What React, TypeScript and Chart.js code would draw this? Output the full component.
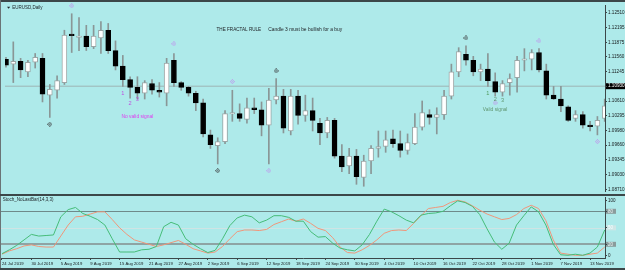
import React, { useEffect, useRef } from "react";
import { Chart, registerables } from "chart.js";
Chart.register(...registerables);

// ---------- data ----------
const dateLabels = [
  "24 Jul 2019", "30 Jul 2019", "5 Aug 2019", "9 Aug 2019", "15 Aug 2019", "21 Aug 2019",
  "27 Aug 2019", "2 Sep 2019", "6 Sep 2019", "12 Sep 2019", "18 Sep 2019", "24 Sep 2019",
  "30 Sep 2019", "4 Oct 2019", "10 Oct 2019", "16 Oct 2019", "22 Oct 2019", "28 Oct 2019",
  "1 Nov 2019", "7 Nov 2019", "13 Nov 2019",
];
const barsPerLabel = 4;

const opens = [
  1.11509, 1.11405, 1.11467, 1.11238, 1.11446, 1.11530, 1.10737, 1.10842, 1.11008, 1.12030,
  1.11978, 1.12009, 1.11780, 1.11968, 1.12134, 1.11697, 1.11363, 1.11071, 1.10904, 1.10779,
  1.10988, 1.10842, 1.10779, 1.11488, 1.11008, 1.10904, 1.10779, 1.10570, 1.09882, 1.09653,
  1.09737, 1.10331, 1.10341, 1.10216, 1.10466, 1.10424, 1.10091, 1.10633, 1.10716, 1.09966,
  1.10716, 1.10299, 1.10404, 1.10132, 1.09924, 1.10195, 1.09424, 1.09215, 1.09424, 1.08965,
  1.09320, 1.09591, 1.09632, 1.09799, 1.09695, 1.09549, 1.09695, 1.10049, 1.10320, 1.10258,
  1.10320, 1.10716, 1.11238, 1.11613, 1.11488, 1.11238, 1.11300, 1.11029, 1.10800, 1.11008,
  1.11113, 1.11488, 1.11509, 1.11655, 1.11259, 1.10737, 1.10654, 1.10487, 1.10237, 1.10320,
  1.10072, 1.10070, 1.10237,
];
const highs = [
  1.11551, 1.11884, 1.11530, 1.11488, 1.11634, 1.11634, 1.10967, 1.11154, 1.12134, 1.12489,
  1.12405, 1.12239, 1.12239, 1.12322, 1.12280, 1.11905, 1.11592, 1.11134, 1.11134, 1.11050,
  1.11071, 1.11008, 1.11530, 1.11634, 1.11029, 1.10925, 1.10821, 1.10654, 1.09986, 1.09820,
  1.10404, 1.10842, 1.10550, 1.10675, 1.10675, 1.10591, 1.10883, 1.11092, 1.10862, 1.10862,
  1.10842, 1.10737, 1.10675, 1.10237, 1.10258, 1.10237, 1.09674, 1.09591, 1.09570, 1.09445,
  1.09653, 1.09966, 1.09966, 1.09986, 1.09966, 1.09903, 1.10341, 1.10612, 1.10424, 1.10466,
  1.10842, 1.11405, 1.11759, 1.11801, 1.11572, 1.11405, 1.11634, 1.11217, 1.11050, 1.11196,
  1.11572, 1.11738, 1.11717, 1.11738, 1.11405, 1.10925, 1.10925, 1.10508, 1.10404, 1.10383,
  1.10174, 1.10278, 1.10654,
];
const lows = [
  1.11342, 1.11008, 1.11113, 1.11134, 1.11321, 1.10591, 1.10258, 1.10675, 1.10967, 1.11655,
  1.11697, 1.11697, 1.11738, 1.11634, 1.11634, 1.11280, 1.10925, 1.10675, 1.10654, 1.10654,
  1.10758, 1.10696, 1.10508, 1.10925, 1.10842, 1.10716, 1.10404, 1.09841, 1.09591, 1.09257,
  1.09695, 1.10174, 1.10174, 1.10132, 1.10341, 1.09862, 1.09257, 1.10550, 1.09924, 1.09882,
  1.10112, 1.10174, 1.09966, 1.09674, 1.09820, 1.09382, 1.09090, 1.09048, 1.08819, 1.08777,
  1.09048, 1.09403, 1.09507, 1.09612, 1.09403, 1.09466, 1.09674, 1.09986, 1.10112, 1.09903,
  1.10216, 1.10654, 1.11134, 1.11384, 1.11154, 1.11050, 1.10925, 1.10716, 1.10716, 1.10737,
  1.10800, 1.11259, 1.11280, 1.11238, 1.10654, 1.10644, 1.10383, 1.10174, 1.10174, 1.10028,
  1.09966, 1.09882, 1.10174,
];
const closes = [
  1.11384, 1.11467, 1.11280, 1.11446, 1.11551, 1.10758, 1.10862, 1.11050, 1.12030, 1.12018,
  1.11990, 1.11780, 1.12009, 1.12134, 1.11697, 1.11363, 1.11071, 1.10904, 1.10779, 1.11008,
  1.10842, 1.10800, 1.11426, 1.11008, 1.10904, 1.10779, 1.10570, 1.09903, 1.09674, 1.09737,
  1.10341, 1.10343, 1.10237, 1.10466, 1.10424, 1.10091, 1.10633, 1.10716, 1.10028, 1.10716,
  1.10299, 1.10404, 1.10195, 1.09924, 1.10195, 1.09424, 1.09194, 1.09424, 1.08986, 1.09320,
  1.09591, 1.09632, 1.09778, 1.09695, 1.09549, 1.09716, 1.10049, 1.10362, 1.10258, 1.10320,
  1.10716, 1.11238, 1.11676, 1.11488, 1.11238, 1.11300, 1.11050, 1.10800, 1.10988, 1.11092,
  1.11488, 1.11509, 1.11655, 1.11280, 1.10737, 1.10654, 1.10508, 1.10195, 1.10320, 1.10091,
  1.10060, 1.10195, 1.10508,
];

const stochMain = [
  3, 10, 18, 28, 38, 35, 36, 37, 70, 83,
  87, 76, 71, 65, 55, 30, 6, 6, 6, 10,
  11, 16, 52, 60, 55, 30, 20, 12, 5, 9,
  30, 54, 68, 73, 70, 59, 64, 72, 72, 69,
  62, 62, 43, 33, 34, 22, 13, 10, 8, 19,
  38, 62, 84, 79, 72, 64, 59, 73, 76, 77,
  80, 90, 99, 96, 89, 74, 48, 24, 11, 22,
  55, 72, 88, 79, 55, 20, 1, 0, 2, 0,
  4, 15, 46,
];
const stochSignal = [
  2, 8, 12, 17, 19, 16, 15, 15, 35, 55,
  70, 71, 75, 79, 79, 65, 50, 38, 28, 24,
  20, 16, 19, 23, 27, 20, 12, 8, 4, 6,
  16, 30, 43, 46, 46, 45, 47, 56, 61, 66,
  62, 66, 58, 49, 45, 32, 15, 5, 4, 10,
  18, 28, 40, 45, 46, 45, 58, 72, 85, 87,
  89, 96, 100, 97, 90, 82, 75, 70, 65, 67,
  74, 85, 91, 85, 63, 28, 4, 2, 0, 0,
  2, 4, 15,
];

const priceTicks = [
  1.1251, 1.12195, 1.11875, 1.1156, 1.11245, 1.1093, 1.1061, 1.10295, 1.0998, 1.0966,
  1.09345, 1.0903, 1.0871,
];
const currentPrice = 1.1093;
const stochTicks = [0, 20, 50, 80, 100];
const stochLevels = [80, 50, 20];

const fractalDarkBars = [6, 29, 37, 63];
const fractalDarkPrices = [1.10112, 1.09111, 1.11259, 1.11968];
const fractalLightBars = [9, 23, 31, 36, 67, 73, 81];
const fractalLightPrices = [1.1266, 1.11842, 1.11029, 1.09111, 1.1057, 1.11905, 1.09737];

const noteTexts = [
  "THE FRACTAL RULE", "Candle 3 must be bullish for a buy",
  "1", "2", "3", "No valid signal",
  "1", "2", "3", "Valid signal",
];
const noteBars = [28.84, 35.92, 16, 17, 18, 15.82, 66, 67, 68, 65.3];
const notePrices = [1.12155, 1.12155, 1.10773, 1.1055, 1.10654, 1.10268, 1.10779, 1.10639, 1.10619, 1.10425];
const noteColors = [
  "#202428", "#202428", "#c04ee0", "#c04ee0", "#c04ee0", "#e03cf0",
  "#4f9a5c", "#5f9670", "#5f9670", "#5f9670",
];
const noteSizes = [4.6, 4.9, 5.6, 5.6, 5.6, 4.9, 5.6, 5.6, 5.6, 4.9];
const noteAligns = ["left", "left", "center", "center", "center", "left", "center", "center", "center", "left"];

// ---------- style constants ----------
const BG = "#aeeaea";
const FRAME = "#3c4749";
const FONT = '"Liberation Sans", Arial, sans-serif';
const X_MIN = -0.136;
const X_MAX = 82.04;
const P_MIN = 1.08675;
const P_MAX = 1.12677;
const S_MIN = -4.9;
const S_MAX = 106;

// small 5x5 fractal glyph (diamond with centre dot)
function makeStar(color: string): HTMLCanvasElement {
  const c = document.createElement("canvas");
  c.width = 5;
  c.height = 5;
  const g = c.getContext("2d")!;
  g.fillStyle = color;
  const px: [number, number][] = [
    [2, 0], [1, 1], [3, 1], [0, 2], [2, 2], [4, 2], [1, 3], [3, 3], [2, 4],
  ];
  for (const [x, y] of px) g.fillRect(x, y, 1, 1);
  return c;
}

export default function App() {
  const mainRef = useRef<HTMLCanvasElement>(null);
  const stochRef = useRef<HTMLCanvasElement>(null);

  useEffect(() => {
    const idx = opens.map((_, i) => i);
    const bull = idx.map((i) => closes[i] >= opens[i]);

    const mainDecor = {
      id: "mainDecor",
      beforeDraw(chart: any) {
        const { ctx, chartArea: a, scales } = chart;
        const py = scales.y.getPixelForValue(currentPrice);
        ctx.save();
        ctx.fillStyle = "#000000";
        ctx.fillRect(a.right + 1, py - 3, 24, 6);
        ctx.restore();
      },
      afterDraw(chart: any) {
        const { ctx, chartArea: a, scales, width } = chart;
        ctx.save();
        for (let k = 0; k < noteTexts.length; k++) {
          ctx.font = `${noteSizes[k]}px ${FONT}`;
          ctx.fillStyle = noteColors[k];
          ctx.textAlign = noteAligns[k] as CanvasTextAlign;
          ctx.textBaseline = "middle";
          ctx.fillText(noteTexts[k], scales.x.getPixelForValue(noteBars[k]), scales.y.getPixelForValue(notePrices[k]));
        }
        ctx.fillStyle = "#20262a";
        ctx.beginPath();
        ctx.moveTo(a.left + 2, a.top + 1.8);
        ctx.lineTo(a.left + 5.2, a.top + 1.8);
        ctx.lineTo(a.left + 3.6, a.top + 3.8);
        ctx.closePath();
        ctx.fill();
        ctx.font = `4.5px ${FONT}`;
        ctx.textAlign = "left";
        ctx.textBaseline = "middle";
        ctx.fillText("EURUSD,Daily", a.left + 7.3, a.top + 2.8);
        ctx.fillStyle = FRAME;
        ctx.fillRect(0, 0, width, 2);
        ctx.fillStyle = "#6a7476";
        ctx.fillRect(0, 0, 1, chart.height);
        ctx.fillStyle = FRAME;
        ctx.fillRect(0, chart.height - 2, width, 2);
        ctx.restore();
      },
    };

    const darkStar = makeStar("#4c5456");
    const lightStar = makeStar("#bca4ec");

    const main = new Chart(mainRef.current!, {
      type: "bar",
      data: {
        datasets: [
          {
            type: "line",
            data: fractalDarkBars.map((b, k) => ({ x: b, y: fractalDarkPrices[k] })),
            showLine: false,
            pointStyle: darkStar as any,
            pointRadius: 2,
            order: -2,
            clip: false as any,
          },
          {
            type: "line",
            data: fractalLightBars.map((b, k) => ({ x: b, y: fractalLightPrices[k] })),
            showLine: false,
            pointStyle: lightStar as any,
            pointRadius: 2,
            order: -1,
            clip: false as any,
          },
          {
            type: "bar",
            data: idx.map((i) => ({ x: i, y: [opens[i], closes[i]] })) as any,
            backgroundColor: bull.map((b) => (b ? "#ffffff" : "#000000")),
            borderColor: bull.map((b) => (b ? "#9aa6a6" : "#000000")),
            borderWidth: 1,
            borderSkipped: false,
            barThickness: 5,
            minBarLength: 1.5,
            grouped: false,
            order: 0,
          } as any,
          {
            type: "bar",
            data: idx.map((i) => ({ x: i, y: [lows[i], highs[i]] })) as any,
            backgroundColor: "#8a9696",
            borderWidth: 0,
            barThickness: 1,
            grouped: false,
            order: 1,
          } as any,
          {
            type: "line",
            data: [
              { x: X_MIN, y: currentPrice },
              { x: X_MAX, y: currentPrice },
            ],
            borderColor: "#9db4b4",
            borderWidth: 1,
            pointRadius: 0,
            order: 2,
          },
        ],
      },
      options: {
        responsive: false,
        animation: false,
        events: [],
        layout: { padding: { left: 1, top: 3, right: 0, bottom: 1 } },
        plugins: { legend: { display: false }, tooltip: { enabled: false } },
        scales: {
          x: { type: "linear", min: X_MIN, max: X_MAX, display: false, offset: false },
          y: {
            type: "linear",
            position: "right",
            min: P_MIN,
            max: P_MAX,
            afterBuildTicks: (s: any) => {
              s.ticks = priceTicks.map((v) => ({ value: v }));
            },
            afterFit: (s: any) => {
              s.width = 20;
              s.paddingTop = 0;
              s.paddingBottom = 0;
            },
            ticks: {
              font: { family: FONT, size: 4.6 },
              color: (c: any) => (c.tick && c.tick.value === currentPrice ? "#ffffff" : "#14181a"),
              padding: 1,
              callback: (v: any) => Number(v).toFixed(5),
            },
            grid: { drawOnChartArea: false, drawTicks: true, tickLength: 2, color: FRAME },
            border: { display: true, color: FRAME, width: 1 },
          },
        },
      } as any,
      plugins: [mainDecor],
    });

    const stochDecor = {
      id: "stochDecor",
      beforeDraw(chart: any) {
        const { ctx, chartArea: a, scales } = chart;
        ctx.save();
        for (const lv of stochLevels) {
          const py = scales.y.getPixelForValue(lv);
          ctx.fillStyle = lv === 50 ? "#cfe6e6" : "#8a9c9c";
          ctx.fillRect(a.right + 1, py - 2.5, 10, 5);
        }
        ctx.restore();
      },
      beforeDatasetsDraw(chart: any) {
        const { ctx, chartArea: a, scales } = chart;
        ctx.save();
        for (const lv of stochLevels) {
          const py = scales.y.getPixelForValue(lv);
          ctx.strokeStyle = lv === 80 ? "#6f8a8a" : lv === 20 ? "#8ea4a4" : "#cfe4e4";
          ctx.lineWidth = lv === 20 ? 2 : 1;
          ctx.beginPath();
          ctx.moveTo(a.left, Math.round(py) + (lv === 20 ? 0 : 0.5));
          ctx.lineTo(a.right, Math.round(py) + (lv === 20 ? 0 : 0.5));
          ctx.stroke();
        }
        ctx.restore();
      },
      afterDraw(chart: any) {
        const { ctx, chartArea: a, width, height } = chart;
        ctx.save();
        ctx.font = `4.5px ${FONT}`;
        ctx.fillStyle = "#20262a";
        ctx.textAlign = "left";
        ctx.textBaseline = "middle";
        ctx.fillText("Stoch_NoLastBar(14,3,3)", a.left + 1.8, a.top + 3);
        ctx.fillStyle = "#6a7476";
        ctx.fillRect(0, 0, 1, height);
        ctx.fillStyle = FRAME;
        ctx.fillRect(0, height - 2, width, 2);
        ctx.restore();
      },
    };

    const stoch = new Chart(stochRef.current!, {
      type: "line",
      data: {
        datasets: [
          {
            data: idx.map((i) => ({ x: i, y: stochMain[i] })),
            borderColor: "#46bc78",
            borderWidth: 1,
            pointRadius: 0,
            tension: 0,
          },
          {
            data: idx.map((i) => ({ x: i, y: stochSignal[i] })),
            borderColor: "#f0967a",
            borderWidth: 1,
            pointRadius: 0,
            tension: 0,
          },
        ],
      },
      options: {
        responsive: false,
        animation: false,
        events: [],
        layout: { padding: { left: 1, top: 1, right: 0, bottom: 0 } },
        plugins: { legend: { display: false }, tooltip: { enabled: false } },
        scales: {
          x: {
            type: "linear",
            min: X_MIN,
            max: X_MAX,
            offset: false,
            afterBuildTicks: (s: any) => {
              s.ticks = dateLabels.map((_, k) => ({ value: k * barsPerLabel }));
            },
            afterFit: (s: any) => {
              s.height = 12;
              s.paddingLeft = 0;
              s.paddingRight = 0;
            },
            ticks: {
              autoSkip: false,
              maxRotation: 0,
              minRotation: 0,
              align: "start",
              padding: 1,
              font: { family: FONT, size: 4.2 },
              color: "#14181a",
              callback: (v: any) => dateLabels[Math.round(Number(v) / barsPerLabel)],
            },
            grid: { drawOnChartArea: false, drawTicks: true, tickLength: 2, color: FRAME },
            border: { display: true, color: FRAME, width: 1 },
          },
          y: {
            type: "linear",
            position: "right",
            min: S_MIN,
            max: S_MAX,
            afterBuildTicks: (s: any) => {
              s.ticks = stochTicks.map((v) => ({ value: v }));
            },
            afterFit: (s: any) => {
              s.width = 20;
              s.paddingTop = 0;
              s.paddingBottom = 0;
            },
            ticks: {
              font: { family: FONT, size: 4.5 },
              color: (c: any) =>
                c.tick && (c.tick.value === 80 || c.tick.value === 20)
                  ? "#eef6f6"
                  : c.tick && c.tick.value === 50
                  ? "#f6ffff"
                  : "#14181a",
              padding: 1,
              callback: (v: any) => String(v),
            },
            grid: { drawOnChartArea: false, drawTicks: true, tickLength: 2, color: FRAME },
            border: { display: true, color: FRAME, width: 1 },
          },
        },
      } as any,
      plugins: [stochDecor],
    });

    return () => {
      main.destroy();
      stoch.destroy();
    };
  }, []);

  return (
    <div
      style={{
        position: "fixed",
        left: 0,
        top: 0,
        width: 625,
        height: 270,
        background: BG,
        overflow: "hidden",
      }}
    >
      <canvas
        ref={mainRef}
        width={625}
        height={196}
        style={{ position: "absolute", left: 0, top: 0, width: 625, height: 196, display: "block" }}
      />
      <canvas
        ref={stochRef}
        width={625}
        height={74}
        style={{ position: "absolute", left: 0, top: 196, width: 625, height: 74, display: "block" }}
      />
    </div>
  );
}
